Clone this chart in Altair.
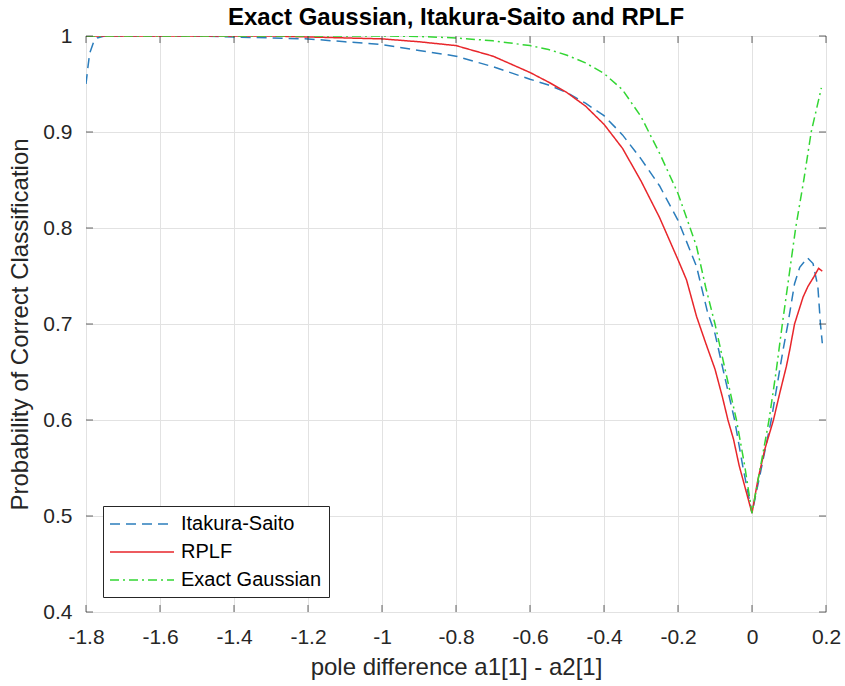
import altair as alt
import pandas as pd

# ---- data ----
x_is = [-1.8, -1.795, -1.79, -1.78, -1.77, -1.75, -1.6, -1.5, -1.4, -1.3, -1.2, -1.1, -1.0,
        -0.9, -0.8, -0.7, -0.6, -0.55, -0.5, -0.45, -0.4, -0.35, -0.3, -0.25, -0.2, -0.15,
        -0.12, -0.1, -0.075, -0.047, -0.025, 0.0, 0.02, 0.052, 0.084, 0.097, 0.115, 0.129,
        0.15, 0.165, 0.178, 0.185, 0.19]
y_is = [0.95, 0.967, 0.982, 0.993, 0.998, 1.0, 1.0, 1.0, 0.999, 0.998, 0.997, 0.994, 0.991,
        0.985, 0.979, 0.968, 0.955, 0.949, 0.941, 0.93, 0.917, 0.897, 0.872, 0.844, 0.808, 0.76,
        0.712, 0.69, 0.647, 0.6, 0.552, 0.503, 0.54, 0.6, 0.673, 0.7, 0.742, 0.759,
        0.769, 0.763, 0.739, 0.70, 0.68]

x_rplf = [-1.8, -1.3, -1.2, -1.1, -1.0, -0.9, -0.8, -0.7, -0.6, -0.55, -0.5, -0.45, -0.4,
          -0.35, -0.3, -0.25, -0.2, -0.177, -0.15, -0.125, -0.1, -0.08, -0.065, -0.05, -0.035,
          0.0, 0.016, 0.035, 0.058, 0.075, 0.093, 0.102, 0.115, 0.138, 0.151, 0.167, 0.18, 0.19]
y_rplf = [1.0, 1.0, 0.999, 0.998, 0.997, 0.994, 0.99, 0.979, 0.962, 0.952, 0.941, 0.927, 0.908,
          0.883, 0.849, 0.811, 0.767, 0.746, 0.708, 0.68, 0.653, 0.624, 0.6, 0.58, 0.553,
          0.503, 0.538, 0.57, 0.6, 0.628, 0.656, 0.673, 0.70, 0.728, 0.739, 0.749, 0.758, 0.755]

x_exact = [-1.8, -1.0, -0.9, -0.8, -0.7, -0.6, -0.55, -0.5, -0.45, -0.4, -0.35, -0.3, -0.25,
           -0.2, -0.15, -0.125, -0.1, -0.07, -0.042, -0.02, 0.0, 0.02, 0.046, 0.065, 0.082,
           0.1, 0.118, 0.14, 0.16, 0.175, 0.1875]
y_exact = [1.0, 1.0, 0.9995, 0.998, 0.995, 0.99, 0.986, 0.98, 0.972, 0.961, 0.944, 0.916, 0.878,
           0.836, 0.781, 0.738, 0.70, 0.648, 0.6, 0.553, 0.503, 0.545, 0.6, 0.65, 0.70,
           0.75, 0.80, 0.85, 0.90, 0.925, 0.946]

series_names = ["Itakura-Saito", "RPLF", "Exact Gaussian"]
series_colors = ["#2B7DBC", "#E8262B", "#33D633"]
series_dash = [[10, 6], [1, 0], [9, 4, 2, 4]]

x_ticks = [-1.8, -1.6, -1.4, -1.2, -1.0, -0.8, -0.6, -0.4, -0.2, 0.0, 0.2]
y_ticks = [0.4, 0.5, 0.6, 0.7, 0.8, 0.9, 1.0]

# ---- tables ----
rows = []
for name, xs, ys in zip(series_names, [x_is, x_rplf, x_exact], [y_is, y_rplf, y_exact]):
    for i, (xv, yv) in enumerate(zip(xs, ys)):
        rows.append({"series": name, "x": xv, "y": yv, "order": i})
df = pd.DataFrame(rows)
df_xt = pd.DataFrame({"x": x_ticks})
df_yt = pd.DataFrame({"y": y_ticks})

W, H = 740, 576
FONT = "Liberation Sans"
INK = "#262626"

xscale = alt.Scale(domain=[-1.8, 0.2], nice=False, zero=False)
yscale = alt.Scale(domain=[0.4, 1.0], nice=False, zero=False)
lab = "toString(round(datum.value*10)/10)"

xaxis = alt.Axis(values=x_ticks, grid=True, gridColor="#e2e2e2", domain=False, ticks=False,
                 tickSize=0, labelExpr=lab, labelFontSize=21, labelFont=FONT, labelColor=INK,
                 labelPadding=14, labelFlush=False, title="pole difference a1[1] - a2[1]",
                 titleFontSize=24, titleFont=FONT, titleColor=INK, titleFontWeight="normal",
                 titlePadding=8)
yaxis = alt.Axis(values=y_ticks, grid=True, gridColor="#e2e2e2", domain=False, ticks=False,
                 tickSize=0, labelExpr=lab, labelFontSize=21, labelFont=FONT, labelColor=INK,
                 labelPadding=14, labelFlush=False, title="Probability of Correct Classification",
                 titleFontSize=24, titleFont=FONT, titleColor=INK, titleFontWeight="normal",
                 titlePadding=10)

legend = alt.Legend(
    title=None, orient="none", legendX=17, legendY=470, direction="vertical",
    padding=7, fillColor="#ffffff", strokeColor=INK, cornerRadius=0,
    labelFont=FONT, labelFontSize=20, labelColor="#000000",
    symbolType="M0,0H6.4", symbolSize=400, symbolStrokeWidth=1.5,
    symbolOffset=-11, labelOffset=60, rowPadding=7,
)

lines = alt.Chart(df).mark_line(strokeWidth=1.5, clip=True).encode(
    x=alt.X("x:Q", scale=xscale, axis=xaxis),
    y=alt.Y("y:Q", scale=yscale, axis=yaxis),
    color=alt.Color("series:N", scale=alt.Scale(domain=series_names, range=series_colors),
                    legend=legend),
    strokeDash=alt.StrokeDash("series:N", scale=alt.Scale(domain=series_names, range=series_dash),
                              legend=legend),
    order="order:Q",
)

tick_style = dict(color=INK, thickness=1, size=7)
xt_bottom = alt.Chart(df_xt).mark_tick(orient="vertical", **tick_style).encode(
    x=alt.X("x:Q", scale=xscale), y=alt.value(H - 3.5))
xt_top = alt.Chart(df_xt).mark_tick(orient="vertical", **tick_style).encode(
    x=alt.X("x:Q", scale=xscale), y=alt.value(3.5))
yt_left = alt.Chart(df_yt).mark_tick(orient="horizontal", **tick_style).encode(
    y=alt.Y("y:Q", scale=yscale), x=alt.value(3.5))
yt_right = alt.Chart(df_yt).mark_tick(orient="horizontal", **tick_style).encode(
    y=alt.Y("y:Q", scale=yscale), x=alt.value(W - 3.5))

chart = alt.layer(lines, xt_bottom, xt_top, yt_left, yt_right).properties(
    width=W, height=H,
    title=alt.TitleParams("Exact Gaussian, Itakura-Saito and RPLF", font=FONT, fontSize=24,
                          fontWeight="bold", color="#000000", anchor="middle", offset=-5),
    autosize=alt.AutoSizeParams(type="none"),
    padding={"left": 86, "top": 36, "right": 19, "bottom": 74},
).configure_view(
    stroke=INK, strokeWidth=1
).configure(background="#ffffff")

chart.save("out.html", embed_options={"renderer": "svg", "actions": False})
